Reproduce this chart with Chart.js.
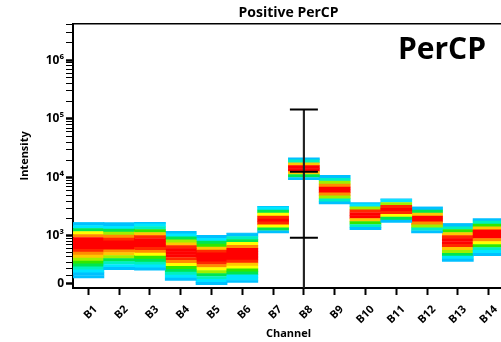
<!DOCTYPE html>
<html>
<head>
<meta charset="utf-8">
<script src="https://cdn.jsdelivr.net/npm/chart.js@4.4.1/dist/chart.umd.min.js"></script>
<style>
  html, body { margin: 0; padding: 0; overflow: hidden; background: #fff; }
</style>
</head>
<body>
<canvas id="heatChart" width="520" height="342"></canvas>
<script>
// Channels on the x axis (the plot runs on past the window edge, B14 is cut off)
const channels = ['B1', 'B2', 'B3', 'B4', 'B5', 'B6', 'B7', 'B8', 'B9', 'B10', 'B11', 'B12', 'B13', 'B14'];

// Each heat bar: lowest and highest intensity of the band, and where it is densest (red)
const lowEdge  = [63, 175, 168, 33, -21, 0, 1114, 9135, 3526, 1274, 1706, 1114, 305, 413];
const highEdge = [1734, 1734, 1750, 1223, 1039, 1141, 3293, 22180, 11100, 3815, 4460, 3210, 1665, 2030];
const peakValue = [786, 744, 790, 507, 393, 477, 1900, 14440, 6350, 2407, 2900, 2030, 845, 1114];

// Mean and error bar, only drawn on B8
const errChannel = 'B8';
const errMean = 12640;
const errUpper = 144800;
const errLower = 930;

// Tick labels of the intensity axis
const majorTicks = [0, 1e3, 1e4, 1e5, 1e6];
const majorLabels = ['0', '10³', '10⁴', '10⁵', '10⁶'];

// Heat colours from sparse (blue) to dense (red)
const heatColors = ['#1a8cff', '#00c0ff', '#00e6ff', '#00f0c0', '#00e650', '#30e800',
                    '#a0f000', '#ffff00', '#ffc800', '#ff8c00', '#ff2800', '#ff0000'];

// biexponential-like display transform, linear near 0 and log above ~1000
const LIN_WIDTH = 161;
function toAxis(v) {
    return Math.asinh(v / (2 * LIN_WIDTH)) / Math.LN10;
}

// minor tick marks between the labelled ones
let minorTicks = [];
for (let m = 1; m <= 9; m++) minorTicks.push(m * 100);
[1e3, 1e4, 1e5].forEach(dec => {
    for (let m = 2; m <= 9; m++) minorTicks.push(m * dec);
});
[2e6, 3e6, 4e6].forEach(v => minorTicks.push(v));

const FONT = "'Open Sans', 'DejaVu Sans', sans-serif";
const STEP = 0.05;   // height of one colour stripe, in axis units
const Y_MIN = -0.08;
const Y_MAX = 4.41;

// colour of a stripe from its distance to the peak (0 = peak, 1 = edge of band)
function heatColor(t) {
    let z = 2.2 * t;
    let d = Math.exp(-z * z / 2);
    let idx = Math.min(heatColors.length - 1, Math.floor(d * heatColors.length));
    return heatColors[idx];
}

// Build the stripes of every heat bar as floating bars
let stripeCount = 0;
channels.forEach((c, i) => {
    let n = Math.ceil((toAxis(highEdge[i]) - toAxis(lowEdge[i])) / STEP - 1e-6);
    stripeCount = Math.max(stripeCount, n);
});

let datasets = [];

// error bar pieces first so they are drawn on top
datasets.push({
    type: 'line',
    data: [
        { x: errChannel, y: toAxis(errUpper) },
        { x: errChannel, y: toAxis(errLower) },
        { x: errChannel, y: toAxis(errMean) }
    ],
    showLine: false,
    pointStyle: 'line',
    pointRadius: 14,
    pointHoverRadius: 14,
    borderColor: '#000',
    pointBorderColor: '#000',
    pointBorderWidth: 2,
    order: 0
});
datasets.push({
    type: 'bar',
    data: channels.map(c => c === errChannel ? [Y_MIN, toAxis(errUpper)] : null),
    backgroundColor: '#222',
    barThickness: 1.5,
    grouped: false,
    order: 0
});

for (let k = 0; k < stripeCount; k++) {
    let data = [];
    let colors = [];
    channels.forEach((c, i) => {
        let uLo = toAxis(lowEdge[i]);
        let uHi = toAxis(highEdge[i]);
        let uPk = toAxis(peakValue[i]);
        let a = uLo + k * STEP;
        if (a >= uHi - 1e-6) {
            data.push(null);
            colors.push('rgba(0,0,0,0)');
            return;
        }
        let b = Math.min(a + STEP, uHi);
        let mid = (a + b) / 2;
        let t = mid < uPk ? (uPk - mid) / (uPk - uLo) : (mid - uPk) / (uHi - uPk);
        data.push([k === 0 ? a : a - 0.008, b]);
        colors.push(heatColor(t));
    });
    datasets.push({
        type: 'bar',
        data: data,
        backgroundColor: colors,
        borderWidth: 0,
        barPercentage: 1.03,
        categoryPercentage: 1,
        grouped: false,
        order: 1
    });
}

// frame line on top and the big "PerCP" label
const extras = {
    id: 'extras',
    afterDraw(chart) {
        let ctx = chart.ctx;
        let area = chart.chartArea;
        ctx.save();
        ctx.strokeStyle = '#000';
        ctx.lineWidth = 1.5;
        ctx.beginPath();
        ctx.moveTo(area.left, area.top);
        ctx.lineTo(area.right, area.top);
        ctx.stroke();
        ctx.fillStyle = '#000';
        ctx.font = "bold 30px " + FONT;
        ctx.textAlign = 'center';
        ctx.textBaseline = 'alphabetic';
        ctx.fillText('PerCP', 442, 59);
        ctx.restore();
    }
};

let allTicks = majorTicks.concat(minorTicks);

new Chart(document.getElementById('heatChart'), {
    data: { labels: channels, datasets: datasets },
    plugins: [extras],
    options: {
        responsive: false,
        animation: false,
        layout: { padding: { left: 0, right: 7, top: 0, bottom: 0 } },
        plugins: {
            legend: { display: false },
            tooltip: { enabled: false },
            title: {
                display: true,
                text: 'Positive PerCP',
                color: '#000',
                fullSize: false,
                font: { family: FONT, size: 14, weight: 'bold' },
                padding: { top: 5, bottom: 2 }
            }
        },
        scales: {
            x: {
                type: 'category',
                offset: true,
                afterFit(scale) { scale.height = 54; },
                grid: {
                    offset: false,
                    drawOnChartArea: false,
                    drawTicks: true,
                    tickLength: 7,
                    tickWidth: 2,
                    tickColor: '#000'
                },
                border: { display: true, color: '#000', width: 2 },
                ticks: {
                    color: '#000',
                    font: { family: FONT, size: 11, weight: 'bold' },
                    minRotation: 45,
                    maxRotation: 45,
                    autoSkip: false,
                    padding: 8,
                    labelOffset: 7
                },
                title: {
                    display: true,
                    text: 'Channel',
                    color: '#000',
                    font: { family: FONT, size: 11, weight: 'bold' },
                    padding: { top: 0, bottom: 2 }
                }
            },
            y: {
                type: 'linear',
                min: Y_MIN,
                max: Y_MAX,
                afterFit(scale) { scale.width = 73; },
                afterBuildTicks(scale) {
                    scale.ticks = allTicks.map(v => ({ value: toAxis(v) }));
                },
                grid: {
                    drawOnChartArea: false,
                    drawTicks: true,
                    tickLength: 7,
                    tickColor: '#000',
                    tickWidth: ctx => ctx.index < majorTicks.length ? 2.5 : 1
                },
                border: { display: true, color: '#000', width: 2 },
                ticks: {
                    color: '#000',
                    autoSkip: false,
                    padding: 2,
                    font: { family: FONT, size: 12, weight: 'bold' },
                    callback: (value, index) => index < majorLabels.length ? majorLabels[index] : ''
                },
                title: {
                    display: true,
                    text: 'Intensity',
                    color: '#000',
                    font: { family: FONT, size: 11, weight: 'bold' },
                    padding: { top: 18, bottom: 0 }
                }
            }
        }
    }
});
</script>
</body>
</html>
